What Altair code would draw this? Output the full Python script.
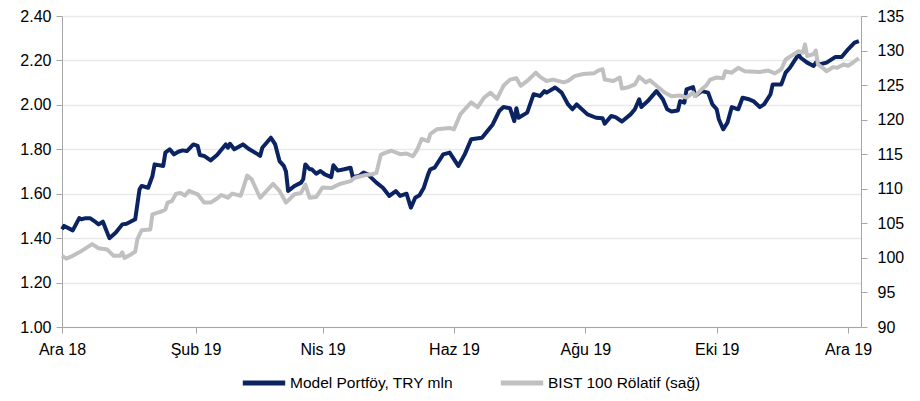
import altair as alt
import pandas as pd

START = "2018-12-01"
SERIES = ["Model Portföy, TRY mln", "BIST 100 Rölatif (sağ)"]
COLORS = ["#0b2461", "#c0c0c0"]
MONTHS_TR = ["Oca", "Şub", "Mar", "Nis", "May", "Haz", "Tem", "Ağu", "Eyl", "Eki", "Kas", "Ara"]
LEFT_TICKS = [1.0, 1.2, 1.4, 1.6, 1.8, 2.0, 2.2, 2.4]
RIGHT_TICKS = [90, 95, 100, 105, 110, 115, 120, 125, 130, 135]

# days since START, and Model Portföy values (TRY mln, left axis)
model_day = [0, 1, 5, 8, 9, 11, 13, 15, 17, 19, 22, 25, 28, 30, 34, 36, 37, 40, 42, 43,
             47, 48, 50, 52, 54, 56, 58, 61, 63, 64, 66, 69, 72, 76, 77, 78, 80, 84, 87, 91,
             92, 93, 97, 99, 101, 103, 104, 105, 108, 111, 112, 113, 115, 116, 118, 120, 121, 122, 125, 126,
             128, 131, 134, 135, 138, 140, 142, 146, 149, 152, 155, 157, 160, 162, 164, 166, 168, 170, 171, 173,
             177, 180, 184, 187, 190, 195, 200, 203, 205, 208, 210, 211, 212, 216, 219, 222, 224, 225, 229, 232,
             235, 237, 239, 244, 248, 251, 252, 255, 257, 260, 264, 266, 268, 269, 272, 276, 279, 281, 283, 286,
             287, 289, 290, 293, 294, 297, 300, 302, 304, 305, 307, 309, 311, 314, 316, 319, 321, 324, 326, 329,
             330, 334, 336, 338, 342, 343, 346, 349, 350, 352, 355, 359, 362, 365, 368, 370]
model_val = [1.44, 1.455, 1.435, 1.49, 1.485, 1.49, 1.49, 1.477, 1.462, 1.474, 1.40, 1.425, 1.462, 1.465, 1.485, 1.62, 1.635, 1.627, 1.68, 1.732,
             1.725, 1.785, 1.80, 1.777, 1.789, 1.795, 1.792, 1.822, 1.815, 1.774, 1.77, 1.75, 1.774, 1.822, 1.807, 1.825, 1.80, 1.822, 1.80, 1.777,
             1.77, 1.807, 1.852, 1.822, 1.747, 1.725, 1.70, 1.612, 1.635, 1.65, 1.665, 1.732, 1.71, 1.71, 1.69, 1.702, 1.695, 1.687, 1.675, 1.728,
             1.704, 1.71, 1.717, 1.675, 1.68, 1.695, 1.687, 1.65, 1.627, 1.59, 1.612, 1.59, 1.60, 1.537, 1.582, 1.593, 1.627, 1.687, 1.71, 1.717,
             1.777, 1.785, 1.725, 1.777, 1.845, 1.852, 1.912, 1.972, 1.99, 1.985, 1.927, 1.985, 1.942, 1.965, 2.048, 2.04, 2.062, 2.055, 2.078, 2.055,
             2.002, 1.98, 2.002, 1.957, 1.942, 1.94, 1.915, 1.95, 1.945, 1.925, 1.957, 1.98, 2.025, 1.99, 2.017, 2.062, 2.025, 1.98, 1.97, 1.975,
             2.017, 2.01, 2.07, 2.08, 2.04, 2.062, 2.055, 2.002, 1.98, 1.935, 1.89, 1.92, 1.99, 1.98, 2.032, 2.025, 2.017, 1.99, 2.002, 2.048,
             2.092, 2.092, 2.145, 2.167, 2.227, 2.212, 2.19, 2.175, 2.19, 2.183, 2.19, 2.215, 2.215, 2.25, 2.28, 2.287]

# days since START, and BIST 100 relative values (right axis)
bist_day = [0, 2, 5, 8, 10, 14, 17, 21, 24, 27, 28, 29, 32, 34, 35, 37, 41, 42, 46, 48,
            49, 51, 53, 55, 57, 59, 63, 66, 69, 72, 74, 77, 79, 83, 86, 88, 92, 95, 98, 101,
            104, 108, 111, 113, 115, 118, 121, 125, 129, 134, 136, 141, 144, 146, 148, 150, 153, 157, 160, 163,
            165, 167, 170, 171, 174, 180, 182, 185, 187, 190, 193, 196, 199, 202, 205, 208, 211, 213, 216, 220,
            222, 225, 228, 233, 235, 238, 242, 247, 249, 251, 252, 256, 259, 260, 263, 266, 268, 271, 273, 276,
            280, 283, 287, 290, 293, 294, 297, 299, 301, 304, 307, 308, 311, 314, 317, 324, 328, 331, 334, 336,
            340, 342, 344, 345, 346, 349, 350, 351, 354, 355, 358, 360, 363, 365, 367, 370]
bist_val = [100.3, 99.9, 100.3, 100.8, 101.2, 102.0, 101.4, 101.2, 100.3, 100.3, 100.8, 100.0, 100.5, 100.9, 102.7, 104.0, 104.1, 106.3, 106.7, 107.0,
            108.0, 108.2, 109.3, 109.4, 109.0, 109.7, 109.2, 108.0, 108.0, 108.6, 109.1, 108.7, 109.3, 109.0, 111.9, 111.4, 108.7, 109.7, 110.7, 109.7,
            108.0, 109.2, 109.4, 110.6, 108.7, 108.8, 110.2, 110.1, 110.7, 111.1, 111.6, 112.0, 112.1, 112.3, 114.9, 115.2, 115.5, 115.0, 115.1, 114.7,
            115.7, 117.2, 116.9, 117.9, 118.6, 118.8, 118.6, 120.8, 121.5, 122.5, 121.8, 123.2, 123.9, 123.0, 124.9, 125.8, 126.0, 124.9, 125.6, 126.8,
            126.2, 125.6, 125.8, 125.4, 125.6, 126.3, 126.6, 126.7, 127.1, 127.3, 125.8, 125.6, 126.1, 124.5, 124.7, 125.1, 126.2, 125.4, 125.7, 124.9,
            123.9, 123.4, 123.5, 123.2, 123.9, 123.4, 124.4, 124.9, 125.8, 126.1, 126.0, 127.0, 126.8, 127.5, 127.0, 126.9, 127.1, 126.7, 127.3, 128.7,
            129.5, 129.9, 129.7, 130.9, 129.2, 129.5, 130.0, 128.0, 127.3, 127.0, 127.6, 127.5, 128.0, 127.8, 128.2, 128.9]

start = pd.Timestamp(START)
df_model = pd.DataFrame({
    "date": (start + pd.to_timedelta(model_day, unit="D")).strftime("%Y-%m-%d"),
    "value": model_val,
    "series": SERIES[0],
})
df_bist = pd.DataFrame({
    "date": (start + pd.to_timedelta(bist_day, unit="D")).strftime("%Y-%m-%d"),
    "value": bist_val,
    "series": SERIES[1],
})

FONT = "Liberation Sans, sans-serif"
AXIS_GRAY = "#a6a6a6"

month_arr = "[" + ",".join("'" + m + "'" for m in MONTHS_TR) + "]"
label_expr = month_arr + "[month(datum.value)] + ' ' + timeFormat(datum.value, '%y')"

x_ticks = [alt.DateTime(year=2018, month=12, date=1)] + [
    alt.DateTime(year=2019, month=m, date=1) for m in (2, 4, 6, 8, 10, 12)
]

x_enc = alt.X(
    "date:T",
    scale=alt.Scale(domain=[alt.DateTime(year=2018, month=12, date=1),
                            alt.DateTime(year=2019, month=12, date=7)]),
    axis=alt.Axis(values=x_ticks, labelExpr=label_expr, title=None, grid=False,
                  tickSize=6, labelPadding=8, labelFlush=False, labelOverlap=False,
                  domainColor=AXIS_GRAY, tickColor=AXIS_GRAY,
                  labelFontSize=16, labelFont=FONT, labelColor="#000000"),
)

color_enc = alt.Color(
    "series:N",
    scale=alt.Scale(domain=SERIES, range=COLORS),
    legend=alt.Legend(orient="none", legendX=178, legendY=343, direction="horizontal",
                      title=None, symbolType="stroke", symbolStrokeWidth=5, symbolSize=1800,
                      labelFontSize=15.5, labelFont=FONT, labelColor="#000000", labelLimit=400,
                      columnPadding=36, labelOffset=2),
)

left = alt.Chart(df_model).mark_line(strokeWidth=4, strokeJoin="round").encode(
    x=x_enc,
    y=alt.Y("value:Q",
            scale=alt.Scale(domain=[1.0, 2.4], nice=False, zero=False),
            axis=alt.Axis(values=LEFT_TICKS, format=".2f", title=None, grid=True,
                          gridColor="#e9e9e9", gridWidth=1.5, tickSize=6, labelPadding=5,
                          domainColor=AXIS_GRAY, tickColor=AXIS_GRAY,
                          labelFontSize=16, labelFont=FONT, labelColor="#000000")),
    color=color_enc,
)

right = alt.Chart(df_bist).mark_line(strokeWidth=4, strokeJoin="round").encode(
    x=x_enc,
    y=alt.Y("value:Q",
            scale=alt.Scale(domain=[90, 135], nice=False, zero=False),
            axis=alt.Axis(values=RIGHT_TICKS, orient="right", title=None, grid=False,
                          tickSize=6, labelPadding=10,
                          domainColor=AXIS_GRAY, tickColor=AXIS_GRAY,
                          labelFontSize=16, labelFont=FONT, labelColor="#000000")),
    color=color_enc,
)

chart = (
    alt.layer(left, right)
    .resolve_scale(y="independent")
    .properties(
        width=799, height=311,
        autosize=alt.AutoSizeParams(type="none"),
        padding={"left": 54, "top": 8, "right": 51, "bottom": 66},
        background="white",
    )
    .configure_view(stroke=None)
)

chart.save("out.html", embed_options={"renderer": "svg", "actions": False})
